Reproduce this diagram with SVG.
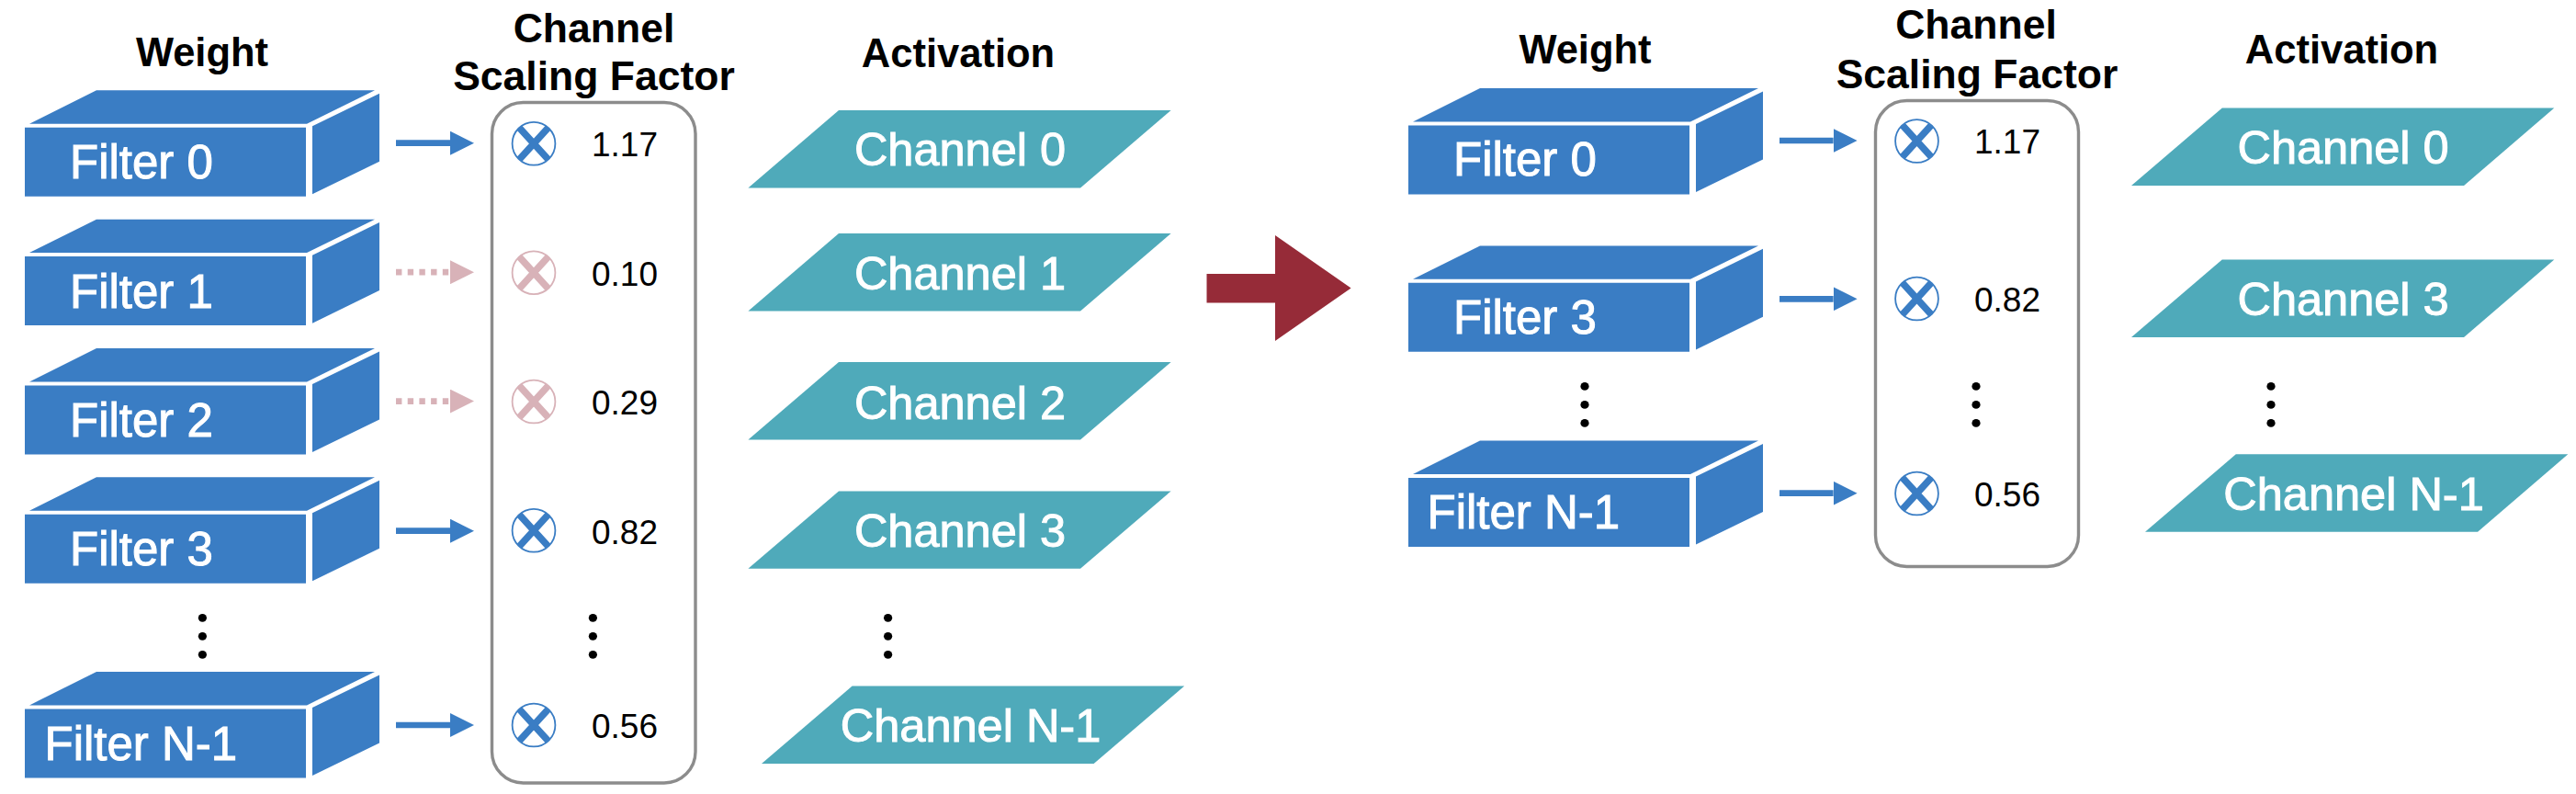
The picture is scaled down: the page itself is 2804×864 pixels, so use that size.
<svg xmlns="http://www.w3.org/2000/svg" xmlns:xlink="http://www.w3.org/1999/xlink" width="2804" height="864" viewBox="0 0 2804 864">
<style>
text{font-family:"Liberation Sans",Arial,sans-serif}
.h{font-size:43.5px;font-weight:700;fill:#000;text-anchor:middle}
.hw{font-size:44.5px}
.f{font-size:51px;fill:#fff;stroke:#fff;stroke-width:1px}
.c{font-size:50.5px;fill:#fff;stroke:#fff;stroke-width:1px;text-anchor:middle}
.v{font-size:37px;fill:#000;text-anchor:middle}
.sb{fill:#3a7dc4}
.pl{fill:#4faaba}
.frame{fill:none;stroke:#8c8c8c;stroke-width:3.4}
.on{stroke:#3a7dc4}
.off{stroke:#d8b2b8}
.ring{fill:#fff;stroke-width:1.8}
.bar{stroke-width:7.6;fill:none}
.shaft{stroke-width:6.7;fill:none}
.dot{fill:#000}
</style>
<defs>
<marker id="hOn" markerUnits="userSpaceOnUse" markerWidth="26" markerHeight="26" refX="0" refY="13" orient="auto"><polygon points="0,0 26,13 0,26" fill="#3a7dc4"/></marker>
<marker id="hOff" markerUnits="userSpaceOnUse" markerWidth="26" markerHeight="26" refX="0" refY="13" orient="auto"><polygon points="0,0 26,13 0,26" fill="#d8b2b8"/></marker>
<g id="block" class="sb">
<polygon points="27,138.7 333,138.7 333,213.7 27,213.7"/>
<polygon points="32,134.7 105,98.3 408,98.3 334,134.7"/>
<polygon points="340,137.3 413,101.7 413,175.7 340,211.3"/>
</g>
<polygon id="sheet" class="pl" points="0,84.4 98.6,0 460.2,0 361.6,84.4"/>
<polygon id="sheetR" class="pl" points="0,84.5 98.8,0 460.3,0 362,84.5"/>
<g id="xOn"><circle class="ring on" r="23.4"/><path class="bar on" d="M-15.5,-17 L15.5,17 M15.5,-17 L-15.5,17"/></g>
<g id="xOff"><circle class="ring off" r="23.4"/><path class="bar off" d="M-15.5,-17 L15.5,17 M15.5,-17 L-15.5,17"/></g>
<g id="vdots"><ellipse class="dot" cx="0" cy="0" rx="4.6" ry="4.4"/><ellipse class="dot" cx="0" cy="20" rx="4.6" ry="4.4"/><ellipse class="dot" cx="0" cy="40" rx="4.6" ry="4.4"/></g>
</defs>
<rect width="2804" height="864" fill="#fff"/>

<g id="left-headers">
<text class="h" x="220" y="72.3">Weight</text>
<text class="h hw" x="646.5" y="45.7">Channel</text>
<text class="h hw" x="646.5" y="98.3">Scaling Factor</text>
<text class="h" x="1043" y="72.7">Activation</text>
</g>

<g id="left-filter-0"><use xlink:href="#block" href="#block"/><text class="f" x="76" y="194.3">Filter 0</text></g>
<g id="left-filter-1"><use xlink:href="#block" href="#block" y="140.4"/><text class="f" x="76" y="334.7">Filter 1</text></g>
<g id="left-filter-2"><use xlink:href="#block" href="#block" y="280.7"/><text class="f" x="76" y="475">Filter 2</text></g>
<g id="left-filter-3"><use xlink:href="#block" href="#block" y="421"/><text class="f" x="76" y="615.3">Filter 3</text></g>
<g id="left-filter-n"><use xlink:href="#block" href="#block" y="632.7"/><text class="f" x="48.5" y="827.3">Filter N-1</text></g>
<use id="left-weight-dots" xlink:href="#vdots" href="#vdots" x="220.4" y="672.3"/>

<g id="left-scaling">
<rect class="frame" x="535.5" y="111.5" width="221.5" height="740.5" rx="34" ry="34"/>
<use xlink:href="#xOn" href="#xOn" x="581" y="156.3"/><text class="v" x="680" y="170.3">1.17</text>
<use xlink:href="#xOff" href="#xOff" x="581" y="296.7"/><text class="v" x="680" y="310.7">0.10</text>
<use xlink:href="#xOff" href="#xOff" x="581" y="437"/><text class="v" x="680" y="451">0.29</text>
<use xlink:href="#xOn" href="#xOn" x="581" y="577.3"/><text class="v" x="680" y="591.7">0.82</text>
<use xlink:href="#xOn" href="#xOn" x="581" y="789"/><text class="v" x="680" y="803.3">0.56</text>
<use xlink:href="#vdots" href="#vdots" x="645.4" y="672.3"/>
</g>

<g id="left-channel-0"><use xlink:href="#sheet" href="#sheet" x="814.4" y="120"/><text class="c" x="1045" y="180">Channel 0</text></g>
<g id="left-channel-1"><use xlink:href="#sheet" href="#sheet" x="814.4" y="254"/><text class="c" x="1045" y="315">Channel 1</text></g>
<g id="left-channel-2"><use xlink:href="#sheet" href="#sheet" x="814.4" y="394"/><text class="c" x="1045" y="455.6">Channel 2</text></g>
<g id="left-channel-3"><use xlink:href="#sheet" href="#sheet" x="814.4" y="534.4"/><text class="c" x="1045" y="595">Channel 3</text></g>
<g id="left-channel-n"><use xlink:href="#sheet" href="#sheet" x="829" y="746.6"/><text class="c" x="1056.5" y="807">Channel N-1</text></g>
<use id="left-activation-dots" xlink:href="#vdots" href="#vdots" x="966.6" y="672.3"/>

<g id="right-headers">
<text class="h" x="1725.5" y="68.6">Weight</text>
<text class="h hw" x="2151" y="42">Channel</text>
<text class="h hw" x="2152" y="96.3">Scaling Factor</text>
<text class="h" x="2549" y="69.4">Activation</text>
</g>

<g id="right-filter-0"><use xlink:href="#block" href="#block" x="1506" y="-2.3"/><text class="f" x="1582" y="191">Filter 0</text></g>
<g id="right-filter-3"><use xlink:href="#block" href="#block" x="1506" y="169.1"/><text class="f" x="1582" y="363.3">Filter 3</text></g>
<g id="right-filter-n"><use xlink:href="#block" href="#block" x="1506" y="381.3"/><text class="f" x="1553.5" y="574.7">Filter N-1</text></g>
<use id="right-weight-dots" xlink:href="#vdots" href="#vdots" x="1725" y="420.4"/>

<g id="right-scaling">
<rect class="frame" x="2041.5" y="109.5" width="221" height="507" rx="34" ry="34"/>
<use xlink:href="#xOn" href="#xOn" x="2086.5" y="153.5"/><text class="v" x="2185" y="167.3">1.17</text>
<use xlink:href="#xOn" href="#xOn" x="2086.5" y="325"/><text class="v" x="2185" y="338.8">0.82</text>
<use xlink:href="#xOn" href="#xOn" x="2086.5" y="537"/><text class="v" x="2185" y="551">0.56</text>
<use xlink:href="#vdots" href="#vdots" x="2151" y="420.4"/>
</g>

<g id="right-channel-0"><use xlink:href="#sheetR" href="#sheetR" x="2320" y="117.5"/><text class="c" x="2550.6" y="178">Channel 0</text></g>
<g id="right-channel-3"><use xlink:href="#sheetR" href="#sheetR" x="2320" y="282.4"/><text class="c" x="2550.6" y="342.9">Channel 3</text></g>
<g id="right-channel-n"><use xlink:href="#sheetR" href="#sheetR" x="2335" y="494.3"/><text class="c" x="2562" y="555">Channel N-1</text></g>
<use id="right-activation-dots" xlink:href="#vdots" href="#vdots" x="2472" y="420.4"/>

<g id="connectors">
<line class="shaft on" x1="431" y1="155.7" x2="490" y2="155.7" marker-end="url(#hOn)"/>
<line class="shaft off" x1="431" y1="296.2" x2="490" y2="296.2" stroke-dasharray="6.4 6.3" marker-end="url(#hOff)"/>
<line class="shaft off" x1="431" y1="436.6" x2="490" y2="436.6" stroke-dasharray="6.4 6.3" marker-end="url(#hOff)"/>
<line class="shaft on" x1="431" y1="577.7" x2="490" y2="577.7" marker-end="url(#hOn)"/>
<line class="shaft on" x1="431" y1="789" x2="490" y2="789" marker-end="url(#hOn)"/>
<line class="shaft on" x1="1937" y1="153" x2="1995.6" y2="153" marker-end="url(#hOn)"/>
<line class="shaft on" x1="1937" y1="325.3" x2="1995.6" y2="325.3" marker-end="url(#hOn)"/>
<line class="shaft on" x1="1937" y1="536.7" x2="1995.6" y2="536.7" marker-end="url(#hOn)"/>
<polygon id="prune-arrow" fill="#962b38" points="1313.5,298 1388,298 1388,256 1470.6,313.5 1388,371 1388,329.5 1313.5,329.5"/>
</g>
</svg>
